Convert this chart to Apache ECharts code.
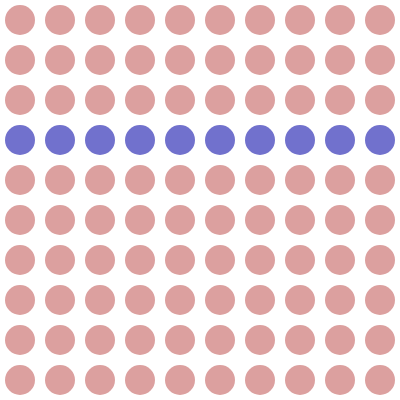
<!DOCTYPE html>
<html>
<head>
<meta charset="utf-8">
<script src="https://cdn.jsdelivr.net/npm/echarts@6/dist/echarts.min.js"></script>
<style>html,body{margin:0;padding:0;background:#fff;}#c{width:400px;height:400px;}</style>
</head>
<body>
<div id="c"></div>
<script>
var columns = ['1','2','3','4','5','6','7','8','9','10'];
var rows = ['1','2','3','4','5','6','7','8','9','10'];
// group of each row, top to bottom: 0 = pink, 1 = blue
var rowGroups = [0,0,0,1,0,0,0,0,0,0];
var groupColors = ['#dca09f', '#7171cd'];

var pink = [], blue = [];
rows.forEach(function (r, ri) {
  columns.forEach(function (c) {
    (rowGroups[ri] === 1 ? blue : pink).push([c, r]);
  });
});

var chart = echarts.init(document.getElementById('c'));
chart.setOption({
  animation: false,
  grid: { left: 0, right: 0, top: 0, bottom: 0 },
  xAxis: { type: 'category', data: columns, show: false, boundaryGap: true },
  yAxis: { type: 'category', data: rows, show: false, inverse: true, boundaryGap: true },
  series: [
    { type: 'scatter', data: pink, symbolSize: 30, itemStyle: { color: groupColors[0], opacity: 1 } },
    { type: 'scatter', data: blue, symbolSize: 30, itemStyle: { color: groupColors[1], opacity: 1 } }
  ]
});
</script>
</body>
</html>
